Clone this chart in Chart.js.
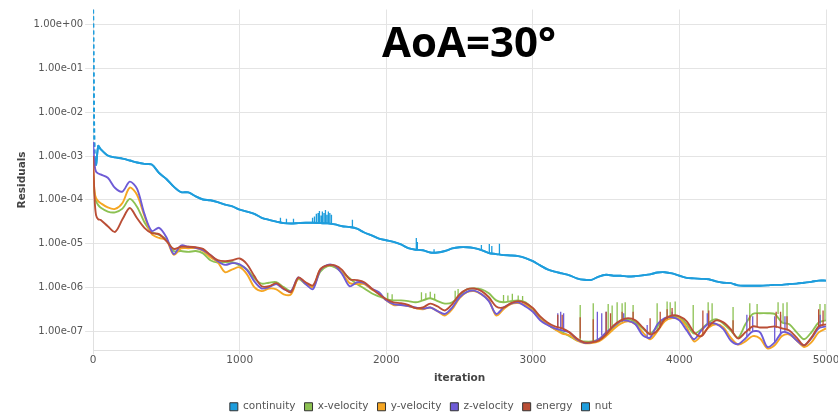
<!DOCTYPE html>
<html>
<head>
<meta charset="utf-8">
<script src="https://cdn.jsdelivr.net/npm/chart.js@4/dist/chart.umd.min.js"></script>
<style>
  html, body { margin: 0; padding: 0; background: #fff; }
  #wrap { width: 838px; height: 415px; position: relative; }
</style>
</head>
<body>
<div id="wrap"><canvas id="residuals"></canvas></div>
<script>
// Solver residual history, AoA = 30 deg
const titleText = 'AoA=30°';

const iterations = [
  0, 10, 20, 35, 50,
  100, 150, 200, 250, 300, 350, 400, 450, 500,
  550, 600, 650, 700, 750, 800, 850, 900, 950, 1000,
  1050, 1100, 1150, 1200, 1250, 1300, 1350, 1400, 1450, 1500,
  1550, 1600, 1650, 1700, 1750, 1800, 1850, 1900, 1950, 2000,
  2050, 2100, 2150, 2200, 2250, 2300, 2350, 2400, 2450, 2500,
  2550, 2600, 2650, 2700, 2750, 2800, 2850, 2900, 2950, 3000,
  3050, 3100, 3150, 3200, 3250, 3300, 3350, 3400, 3450, 3500,
  3550, 3600, 3650, 3700, 3750, 3800, 3850, 3900, 3950, 4000,
  4050, 4100, 4150, 4200, 4250, 4300, 4350, 4400, 4450, 4500,
  4550, 4600, 4650, 4700, 4750, 4800, 4850, 4900, 4950, 5000
];

const continuity = [
  2.2, 1.0e-3, 6.3e-4, 1.7e-3, 1.45e-3,
  1.03e-3, 9.3e-4, 8.7e-4, 7.9e-4, 7.1e-4, 6.6e-4, 6.4e-4, 4.1e-4, 3.0e-4,
  2.0e-4, 1.5e-4, 1.48e-4, 1.2e-4, 1.02e-4, 9.8e-5, 8.9e-5, 7.8e-5, 7.1e-5, 6.0e-5,
  5.4e-5, 4.8e-5, 3.9e-5, 3.5e-5, 3.2e-5, 2.95e-5, 2.9e-5, 2.95e-5, 3.0e-5, 3.0e-5,
  2.95e-5, 2.9e-5, 2.75e-5, 2.5e-5, 2.4e-5, 2.2e-5, 1.8e-5, 1.55e-5, 1.3e-5, 1.2e-5,
  1.1e-5, 9.6e-6, 7.9e-6, 7.3e-6, 7.1e-6, 6.3e-6, 6.3e-6, 6.8e-6, 7.8e-6, 8.3e-6,
  8.3e-6, 7.9e-6, 7.1e-6, 6.1e-6, 5.8e-6, 5.5e-6, 5.4e-6, 5.2e-6, 4.7e-6, 4.0e-6,
  3.2e-6, 2.6e-6, 2.3e-6, 2.1e-6, 1.9e-6, 1.62e-6, 1.5e-6, 1.5e-6, 1.78e-6, 1.95e-6,
  1.86e-6, 1.86e-6, 1.78e-6, 1.82e-6, 1.9e-6, 2.0e-6, 2.2e-6, 2.24e-6, 2.1e-6, 1.86e-6,
  1.66e-6, 1.62e-6, 1.58e-6, 1.55e-6, 1.38e-6, 1.29e-6, 1.26e-6, 1.12e-6, 1.1e-6, 1.1e-6,
  1.1e-6, 1.12e-6, 1.15e-6, 1.15e-6, 1.2e-6, 1.23e-6, 1.29e-6, 1.35e-6, 1.44e-6, 1.44e-6
];

const xVelocity = [
  4.0e-4, 1.3e-4, 9.3e-5, 7.6e-5, 6.7e-5,
  5.4e-5, 5.2e-5, 6.3e-5, 1.05e-4, 6.9e-5, 3.1e-5, 1.86e-5, 1.58e-5, 1.26e-5,
  6.8e-6, 6.8e-6, 6.5e-6, 6.8e-6, 6.0e-6, 4.2e-6, 3.7e-6, 3.8e-6, 3.8e-6, 3.2e-6,
  2.6e-6, 1.62e-6, 1.23e-6, 1.29e-6, 1.32e-6, 1.02e-6, 8.3e-7, 1.55e-6, 1.2e-6, 1.07e-6,
  2.3e-6, 3.1e-6, 2.9e-6, 2.24e-6, 1.62e-6, 1.2e-6, 9.5e-7, 7.4e-7, 6.3e-7, 5.4e-7,
  5.1e-7, 5.1e-7, 4.9e-7, 4.6e-7, 5.1e-7, 5.7e-7, 4.9e-7, 4.3e-7, 4.6e-7, 6.6e-7,
  9.1e-7, 9.5e-7, 9.1e-7, 7.4e-7, 5.1e-7, 4.6e-7, 4.9e-7, 5.1e-7, 4.6e-7, 3.2e-7,
  2.0e-7, 1.45e-7, 1.12e-7, 9.5e-8, 7.8e-8, 6.2e-8, 5.9e-8, 5.9e-8, 6.6e-8, 8.5e-8,
  1.23e-7, 1.7e-7, 1.9e-7, 1.6e-7, 1.17e-7, 8.9e-8, 1.3e-7, 1.9e-7, 2.2e-7, 2.1e-7,
  1.45e-7, 8.9e-8, 1.12e-7, 1.6e-7, 1.9e-7, 1.5e-7, 1.05e-7, 7.2e-8, 1.45e-7, 2.5e-7,
  2.6e-7, 2.6e-7, 2.5e-7, 1.6e-7, 1.45e-7, 9.5e-8, 6.6e-8, 9.5e-8, 1.6e-7, 1.78e-7
];

const yVelocity = [
  5.0e-4, 1.5e-4, 1.1e-4, 9.3e-5, 8.5e-5,
  6.7e-5, 6.2e-5, 8.5e-5, 1.9e-4, 1.29e-4, 4.3e-5, 1.66e-5, 1.35e-5, 1.2e-5,
  5.6e-6, 7.8e-6, 7.9e-6, 7.9e-6, 6.8e-6, 4.9e-6, 3.8e-6, 2.24e-6, 2.6e-6, 2.9e-6,
  2.0e-6, 1.02e-6, 8.3e-7, 9.5e-7, 9.1e-7, 7.0e-7, 7.0e-7, 1.62e-6, 1.26e-6, 1.02e-6,
  2.6e-6, 3.2e-6, 3.1e-6, 2.1e-6, 1.26e-6, 1.2e-6, 1.2e-6, 9.1e-7, 7.6e-7, 5.1e-7,
  4.0e-7, 4.0e-7, 3.8e-7, 3.4e-7, 3.2e-7, 3.5e-7, 2.9e-7, 2.3e-7, 3.2e-7, 5.7e-7,
  7.8e-7, 8.3e-7, 7.0e-7, 5.1e-7, 2.3e-7, 3.2e-7, 4.2e-7, 4.4e-7, 4.0e-7, 2.9e-7,
  1.9e-7, 1.45e-7, 1.12e-7, 8.9e-8, 8.1e-8, 6.2e-8, 5.4e-8, 5.4e-8, 5.9e-8, 7.8e-8,
  1.12e-7, 1.5e-7, 1.7e-7, 1.45e-7, 9.5e-8, 6.6e-8, 1.0e-7, 1.7e-7, 2.0e-7, 1.9e-7,
  1.23e-7, 5.9e-8, 8.1e-8, 1.23e-7, 1.45e-7, 1.23e-7, 7.2e-8, 5.0e-8, 5.9e-8, 7.8e-8,
  6.9e-8, 4.1e-8, 4.8e-8, 7.8e-8, 8.5e-8, 6.2e-8, 4.4e-8, 5.6e-8, 9.5e-8, 1.17e-7
];

const zVelocity = [
  2.1e-3, 6.3e-4, 4.4e-4, 4.0e-4, 3.8e-4,
  3.2e-4, 1.86e-4, 1.55e-4, 2.6e-4, 1.78e-4, 4.8e-5, 1.95e-5, 2.3e-5, 1.4e-5,
  5.8e-6, 9.1e-6, 8.5e-6, 8.1e-6, 7.1e-6, 5.5e-6, 4.0e-6, 3.3e-6, 3.6e-6, 3.4e-6,
  2.5e-6, 1.38e-6, 9.5e-7, 1.02e-6, 1.2e-6, 9.2e-7, 8.3e-7, 1.7e-6, 1.2e-6, 9.2e-7,
  2.5e-6, 3.3e-6, 3.1e-6, 2.0e-6, 1.07e-6, 1.32e-6, 1.26e-6, 9.5e-7, 7.8e-7, 5.1e-7,
  4.2e-7, 4.0e-7, 3.8e-7, 3.5e-7, 3.3e-7, 3.5e-7, 2.9e-7, 2.5e-7, 3.5e-7, 6.0e-7,
  8.0e-7, 8.5e-7, 7.0e-7, 4.9e-7, 2.5e-7, 3.5e-7, 4.3e-7, 4.6e-7, 3.7e-7, 2.8e-7,
  1.8e-7, 1.4e-7, 1.17e-7, 1.05e-7, 9.5e-8, 6.6e-8, 5.5e-8, 5.6e-8, 6.6e-8, 9.5e-8,
  1.3e-7, 1.74e-7, 1.74e-7, 1.45e-7, 8.1e-8, 7.2e-8, 1.45e-7, 2.0e-7, 2.1e-7, 1.78e-7,
  1.05e-7, 6.6e-8, 1.05e-7, 1.5e-7, 1.48e-7, 1.12e-7, 6.2e-8, 5.1e-8, 6.9e-8, 1.0e-7,
  9.5e-8, 4.4e-8, 5.6e-8, 9.5e-8, 8.9e-8, 6.2e-8, 4.8e-8, 6.9e-8, 1.17e-7, 1.3e-7
];

const energy = [
  1.0e-3, 1.05e-4, 4.5e-5, 3.6e-5, 3.5e-5,
  2.5e-5, 1.86e-5, 3.6e-5, 6.5e-5, 3.8e-5, 2.3e-5, 1.74e-5, 1.66e-5, 1.15e-5,
  7.6e-6, 8.5e-6, 8.5e-6, 8.3e-6, 7.6e-6, 5.5e-6, 4.2e-6, 4.0e-6, 4.2e-6, 4.6e-6,
  3.4e-6, 1.82e-6, 1.07e-6, 1.07e-6, 1.26e-6, 9.5e-7, 7.8e-7, 1.7e-6, 1.32e-6, 1.12e-6,
  2.6e-6, 3.2e-6, 3.2e-6, 2.5e-6, 1.55e-6, 1.48e-6, 1.32e-6, 9.5e-7, 7.0e-7, 5.4e-7,
  4.6e-7, 4.4e-7, 4.0e-7, 3.4e-7, 3.5e-7, 4.3e-7, 3.7e-7, 3.0e-7, 4.2e-7, 7.0e-7,
  9.1e-7, 9.5e-7, 8.3e-7, 6.0e-7, 3.7e-7, 3.5e-7, 4.4e-7, 4.9e-7, 4.4e-7, 3.4e-7,
  2.2e-7, 1.6e-7, 1.3e-7, 1.17e-7, 9.5e-8, 6.9e-8, 5.6e-8, 5.6e-8, 6.2e-8, 8.5e-8,
  1.35e-7, 1.78e-7, 2.0e-7, 1.78e-7, 1.23e-7, 8.5e-8, 1.05e-7, 1.9e-7, 2.3e-7, 2.2e-7,
  1.7e-7, 9.5e-8, 7.8e-8, 1.3e-7, 1.78e-7, 1.6e-7, 1.12e-7, 6.9e-8, 9.5e-8, 1.3e-7,
  1.23e-7, 1.23e-7, 1.3e-7, 1.17e-7, 1.05e-7, 7.2e-8, 4.8e-8, 7.2e-8, 1.3e-7, 1.45e-7
];

// nut residual follows the continuity trace over the whole run
const nut = continuity;

// Short-lived residual bursts: [iteration, level before, burst peak]
const continuitySpikes = [
  [1278, 3.1e-5, 3.9e-5], [1319, 2.95e-5, 3.7e-5], [1367, 2.9e-5, 3.7e-5],
  [1497, 3.0e-5, 3.9e-5], [1510, 3.0e-5, 4.2e-5], [1523, 3.0e-5, 4.8e-5],
  [1535, 3.0e-5, 5.0e-5], [1544, 2.95e-5, 5.6e-5], [1555, 2.95e-5, 4.4e-5],
  [1564, 2.95e-5, 5.4e-5], [1575, 2.9e-5, 5.0e-5], [1585, 2.9e-5, 5.9e-5],
  [1595, 2.9e-5, 4.6e-5], [1605, 2.9e-5, 5.4e-5], [1615, 2.85e-5, 5.0e-5],
  [1626, 2.8e-5, 4.6e-5], [1769, 2.3e-5, 3.5e-5], [2205, 7.3e-6, 1.35e-5],
  [2212, 7.2e-6, 1.1e-5], [2326, 6.3e-6, 7.5e-6], [2649, 7.1e-6, 9.3e-6],
  [2703, 6.1e-6, 9.8e-6], [2720, 6.0e-6, 8.9e-6], [2772, 5.7e-6, 1.0e-5]
];
const xVelocitySpikes = [
  [2010, 5.4e-7, 7.6e-7], [2040, 5.1e-7, 7.0e-7], [2240, 5.1e-7, 7.8e-7],
  [2270, 5.3e-7, 7.4e-7], [2300, 5.7e-7, 8.0e-7], [2330, 5.3e-7, 7.2e-7],
  [2470, 5.5e-7, 8.5e-7], [2490, 6.2e-7, 9.3e-7], [2800, 4.6e-7, 6.8e-7],
  [2830, 4.8e-7, 6.6e-7], [2860, 4.9e-7, 7.2e-7], [2900, 5.1e-7, 6.6e-7],
  [2930, 4.8e-7, 6.4e-7], [3323, 6.2e-8, 4.0e-7], [3412, 5.9e-8, 4.4e-7],
  [3514, 8.5e-8, 4.2e-7], [3541, 1.0e-7, 3.9e-7], [3575, 1.3e-7, 4.6e-7],
  [3609, 1.6e-7, 4.4e-7], [3630, 1.7e-7, 4.6e-7], [3684, 1.7e-7, 4.0e-7],
  [3848, 9.5e-8, 4.4e-7], [3916, 1.9e-7, 4.8e-7], [3937, 2.1e-7, 4.6e-7],
  [3971, 2.2e-7, 4.8e-7], [4094, 9.0e-8, 4.0e-7], [4196, 1.5e-7, 4.6e-7],
  [4223, 1.7e-7, 4.4e-7], [4366, 9.5e-8, 3.6e-7], [4480, 1.8e-7, 4.4e-7],
  [4530, 2.5e-7, 4.2e-7], [4673, 2.5e-7, 4.6e-7], [4707, 1.6e-7, 4.4e-7],
  [4734, 1.5e-7, 4.6e-7], [4959, 1.6e-7, 4.2e-7], [4993, 1.78e-7, 4.2e-7]
];
const zVelocitySpikes = [
  [3170, 1.1e-7, 2.6e-7], [3190, 1.05e-7, 2.8e-7], [3210, 1.0e-7, 2.6e-7],
  [3440, 6.5e-8, 2.8e-7], [3470, 8.0e-8, 2.6e-7], [3500, 9.5e-8, 2.8e-7],
  [3620, 1.74e-7, 2.6e-7], [3780, 7.5e-8, 1.4e-7], [3950, 2.1e-7, 2.8e-7],
  [4190, 1.5e-7, 2.6e-7], [4460, 7.5e-8, 2.4e-7], [4500, 1.0e-7, 2.2e-7],
  [4650, 5.6e-8, 2.2e-7], [4690, 8.0e-8, 2.4e-7], [4720, 9.5e-8, 2.2e-7],
  [4960, 1.2e-7, 2.4e-7]
];
const energySpikes = [
  [3170, 1.25e-7, 2.4e-7], [3200, 1.17e-7, 2.4e-7], [3323, 6.9e-8, 2.1e-7],
  [3412, 5.6e-8, 1.9e-7], [3500, 8.5e-8, 2.8e-7], [3530, 1.1e-7, 2.6e-7],
  [3609, 1.7e-7, 2.8e-7], [3684, 1.8e-7, 2.8e-7], [3800, 8.5e-8, 2.0e-7],
  [3869, 1.2e-7, 2.8e-7], [3916, 1.9e-7, 3.2e-7], [3950, 2.3e-7, 3.4e-7],
  [4160, 8.0e-8, 3.0e-7], [4200, 1.3e-7, 3.0e-7], [4366, 9.5e-8, 1.8e-7],
  [4480, 1.0e-7, 2.3e-7], [4530, 1.25e-7, 2.6e-7], [4660, 1.2e-7, 2.8e-7],
  [4690, 1.17e-7, 2.8e-7], [4734, 1.05e-7, 2.2e-7], [4950, 1.3e-7, 3.2e-7],
  [4980, 1.4e-7, 3.0e-7]
];

const yTickValues = [1, 1e-1, 1e-2, 1e-3, 1e-4, 1e-5, 1e-6, 1e-7];
const yTickLabels = ['1.00e+00', '1.00e-01', '1.00e-02', '1.00e-03',
                     '1.00e-04', '1.00e-05', '1.00e-06', '1.00e-07'];
const xTickValues = [0, 1000, 2000, 3000, 4000, 5000];
const xTickLabels = ['0', '1000', '2000', '3000', '4000', '5000'];

const colors = {
  continuity: '#1e9ddc',
  xVelocity: '#8cc152',
  yVelocity: '#f5a623',
  zVelocity: '#6e5bd6',
  energy: '#ba4e36',
  nut: '#1e9ddc'
};

const FONT = '"DejaVu Sans", sans-serif';

function toPoints(values) {
  return iterations.map((it, i) => ({ x: it, y: values[i] }));
}
function spikePoints(list) {
  const pts = [];
  list.forEach(([it, lo, hi]) => {
    pts.push({ x: it, y: lo }, { x: it, y: hi }, { x: it, y: null });
  });
  return pts;
}

// the very first step (from the initial residual) is drawn dashed
const firstStepDashed = { borderDash: ctx => (ctx.p0DataIndex === 0 ? [4, 3] : undefined) };

function series(label, values, color, order, extra) {
  return Object.assign({
    label,
    data: toPoints(values),
    borderColor: color,
    backgroundColor: color,
    borderWidth: 1.9,
    pointRadius: 0,
    tension: 0.3,
    order
  }, extra || {});
}
function bursts(label, list, color, order) {
  return {
    label,
    data: spikePoints(list),
    borderColor: color,
    backgroundColor: color,
    borderWidth: 1.3,
    pointRadius: 0,
    tension: 0,
    spanGaps: false,
    order
  };
}

const datasets = [
  series('continuity', continuity, colors.continuity, 6, { segment: firstStepDashed }),
  series('x-velocity', xVelocity, colors.xVelocity, 4),
  series('y-velocity', yVelocity, colors.yVelocity, 3),
  series('z-velocity', zVelocity, colors.zVelocity, 2),
  series('energy', energy, colors.energy, 1),
  series('nut', nut, colors.nut, 5, { segment: firstStepDashed }),
  bursts('continuity bursts', continuitySpikes, colors.continuity, 6),
  bursts('x-velocity bursts', xVelocitySpikes, colors.xVelocity, 4),
  bursts('z-velocity bursts', zVelocitySpikes, colors.zVelocity, 2),
  bursts('energy bursts', energySpikes, colors.energy, 1)
];
const LEGEND_COUNT = 6;

const aoaTitle = {
  id: 'aoaTitle',
  afterDraw(chart) {
    const { ctx, chartArea: a } = chart;
    ctx.save();
    ctx.font = 'bold 42px "Open Sans", "Noto Sans", sans-serif';
    ctx.fillStyle = '#000';
    ctx.textAlign = 'center';
    ctx.textBaseline = 'alphabetic';
    ctx.fillText(titleText, a.left + a.width * 0.513, a.top + 47);
    ctx.restore();
  }
};

new Chart(document.getElementById('residuals'), {
  type: 'line',
  data: { datasets },
  plugins: [aoaTitle],
  options: {
    responsive: true,
    maintainAspectRatio: false,
    animation: false,
    devicePixelRatio: 1,
    layout: { padding: { left: 16, right: 12, top: 9.5, bottom: -7 } },
    plugins: {
      tooltip: { enabled: false },
      legend: {
        position: 'bottom',
        labels: {
          boxWidth: 8,
          boxHeight: 8,
          padding: 9,
          color: '#555',
          font: { family: FONT, size: 10.5 },
          sort: (a, b) => a.datasetIndex - b.datasetIndex,
          generateLabels(chart) {
            return Chart.defaults.plugins.legend.labels.generateLabels(chart)
              .filter(item => item.datasetIndex < LEGEND_COUNT)
              .map(item => Object.assign(item, { strokeStyle: '#333', lineWidth: 1, lineDash: [] }));
          }
        }
      }
    },
    scales: {
      x: {
        type: 'linear',
        min: 0,
        max: 5000,
        afterBuildTicks(axis) { axis.ticks = xTickValues.map(v => ({ value: v })); },
        // the last tick label may run past the canvas edge instead of shrinking the plot
        afterFit(axis) { axis.paddingRight = 0; },
        ticks: {
          color: '#555', font: { family: FONT, size: 10.5 }, padding: 0, maxRotation: 0,
          callback: (value, index) => xTickLabels[index]
        },
        grid: { color: '#e4e4e4', tickLength: 4 },
        border: { color: '#e0e0e0' },
        title: {
          display: true, text: 'iteration', color: '#444',
          font: { family: FONT, size: 10.5, weight: 'bold' }, padding: { top: 5, bottom: 8 }
        }
      },
      y: {
        type: 'logarithmic',
        min: 3.7e-8,
        max: 2.2,
        afterBuildTicks(axis) { axis.ticks = yTickValues.map(v => ({ value: v })); },
        ticks: {
          color: '#555', font: { family: FONT, size: 10 }, padding: 2,
          callback: (value, index) => yTickLabels[index]
        },
        grid: { color: '#e4e4e4', tickLength: 8 },
        border: { color: '#e0e0e0' },
        title: {
          display: true, text: 'Residuals', color: '#444',
          font: { family: FONT, size: 10.5, weight: 'bold' }, padding: { top: 0, bottom: 3 }
        }
      }
    }
  }
});
</script>
</body>
</html>
